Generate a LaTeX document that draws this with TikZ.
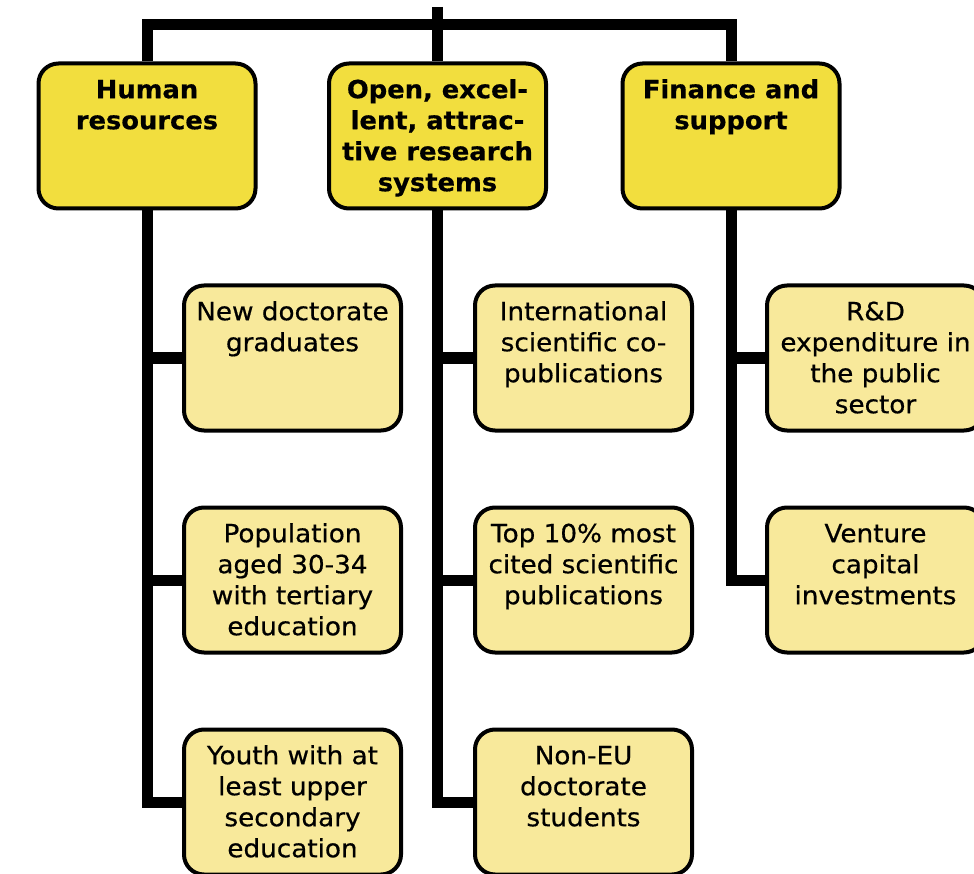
\documentclass[tikz,border=0pt]{standalone}
\usepackage{fontspec}
\setmainfont{DejaVu Sans}
\newfontfamily\itemfont{DejaVu Sans}[FakeStretch=1.05, FakeBold=0.6]
\newfontfamily\headfont{DejaVu Sans Bold}[FakeStretch=1.03, FakeBold=0.5]
\usepackage{xcolor}
\usepackage{tikz}

\definecolor{headyellow}{RGB}{242,222,62}
\definecolor{itemyellow}{RGB}{248,233,155}
% text of a box, set from its top
\newcommand{\cell}[1]{\parbox[c][145pt][t]{213pt}{\centering\vspace*{13pt}\strut#1}}

\begin{document}
\begin{tikzpicture}
                [x=1pt, y=-1pt,
                head/.style = {draw, line width=4pt, rounded corners=20pt, fill=headyellow, inner sep=0pt, minimum width=217pt, minimum height=145pt, font=\headfont\fontsize{25}{31}\selectfont},
                item/.style = {draw, line width=4pt, rounded corners=20pt, fill=itemyellow, inner sep=0pt, minimum width=217pt, minimum height=145pt, font=\itemfont\fontsize{25}{31}\selectfont},
                bar/.style = {line width=11pt}]
                \path[use as bounding box, clip] (0,0) rectangle (974,874);
                % Categories
                \node[head] (h) at (147,136) {\cell{Human\\resources}};
                \node[head] (o) at (437.5,136) {\cell{Open, excel-\\lent, attrac-\\tive research\\systems}};
                \node[head] (f) at (731,136) {\cell{Finance and\\support}};
                % Indicators of each category
                \node[item] (h1) at (292.5,358) {\cell{New doctorate\\graduates}};
                \node[item] (h2) at (292.5,580) {\cell{Population\\aged 30-34\\with tertiary\\education}};
                \node[item] (h3) at (292.5,802) {\cell{Youth with at\\least upper\\secondary\\education}};
                \node[item] (o1) at (583.5,358) {\cell{International\\scientific co-\\publications}};
                \node[item] (o2) at (583.5,580) {\cell{Top 10\% most\\cited scientific\\publications}};
                \node[item] (o3) at (583.5,802) {\cell{Non-EU\\doctorate\\students}};
                \node[item] (f1) at (875.5,358) {\cell{R\&D\\expenditure in\\the public\\sector}};
                \node[item] (f2) at (875.5,580) {\cell{Venture\\capital\\investments}};
                % Lines
                \coordinate (top) at (437.5,7);
                \coordinate (split) at (437.5,25);
                \draw[bar] (top) -- (o.north);
                \draw[bar] (h.north) |- (split) -| (f.north);
                \draw[bar] (h.south) |- (h3.west);
                \draw[bar] (h.south |- h1.west) -- (h1.west);
                \draw[bar] (h.south |- h2.west) -- (h2.west);
                \draw[bar] (o.south) |- (o3.west);
                \draw[bar] (o.south |- o1.west) -- (o1.west);
                \draw[bar] (o.south |- o2.west) -- (o2.west);
                \draw[bar] (f.south) |- (f2.west);
                \draw[bar] (f.south |- f1.west) -- (f1.west);
            \end{tikzpicture}
\end{document}
